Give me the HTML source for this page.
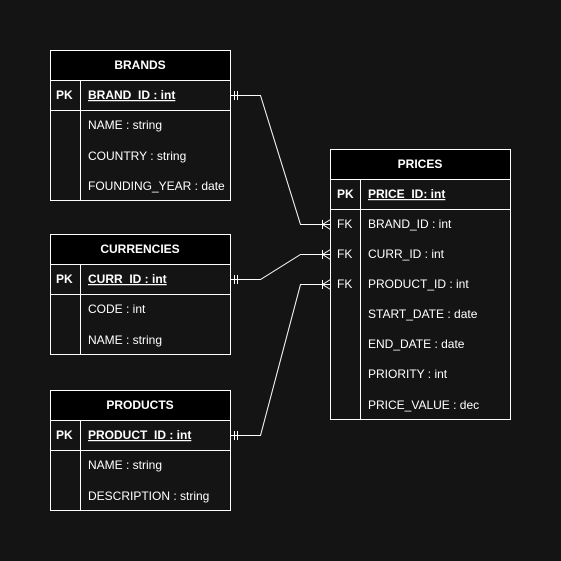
<!DOCTYPE html>
<html><head><style>
html,body{margin:0;padding:0;background:#141414;overflow:hidden;width:561px;height:561px;}
svg{display:block;}
svg text{font-family:"Liberation Sans",Arial,sans-serif;font-size:12px;fill:#fff;}
</style></head><body>
<svg width="561" height="561" viewBox="0 0 561 561" xmlns="http://www.w3.org/2000/svg">
<rect width="561" height="561" fill="#141414"/>
<g stroke="#fff" stroke-width="1" fill="none">
<rect x="50.5" y="50.5" width="180" height="150" fill="#141414"/>
<rect x="50.5" y="50.5" width="180" height="30" fill="#000"/>
<line x1="50.5" y1="110.5" x2="230.5" y2="110.5"/>
<line x1="80.5" y1="80.5" x2="80.5" y2="200.5"/>
<rect x="50.5" y="234.5" width="180" height="120" fill="#141414"/>
<rect x="50.5" y="234.5" width="180" height="30" fill="#000"/>
<line x1="50.5" y1="294.5" x2="230.5" y2="294.5"/>
<line x1="80.5" y1="264.5" x2="80.5" y2="354.5"/>
<rect x="50.5" y="390.5" width="180" height="120" fill="#141414"/>
<rect x="50.5" y="390.5" width="180" height="30" fill="#000"/>
<line x1="50.5" y1="450.5" x2="230.5" y2="450.5"/>
<line x1="80.5" y1="420.5" x2="80.5" y2="510.5"/>
<rect x="330.5" y="149.5" width="180" height="270" fill="#141414"/>
<rect x="330.5" y="149.5" width="180" height="30" fill="#000"/>
<line x1="330.5" y1="209.5" x2="510.5" y2="209.5"/>
<line x1="360.5" y1="179.5" x2="360.5" y2="419.5"/>
<polyline points="230.5,95.5 260.5,95.5 300.5,224.5 330.5,224.5"/>
<polyline points="230.5,279.5 260.5,279.5 300.5,254.5 330.5,254.5"/>
<polyline points="230.5,435.5 260.5,435.5 300.5,284.5 330.5,284.5"/>
<line x1="234.5" y1="91" x2="234.5" y2="100"/><line x1="237.5" y1="91" x2="237.5" y2="100"/>
<line x1="234.5" y1="275" x2="234.5" y2="284"/><line x1="237.5" y1="275" x2="237.5" y2="284"/>
<line x1="234.5" y1="431" x2="234.5" y2="440"/><line x1="237.5" y1="431" x2="237.5" y2="440"/>
<line x1="322.5" y1="220" x2="322.5" y2="229"/><polyline points="330.5,219.5 322.5,224.5 330.5,229.5"/>
<line x1="322.5" y1="250" x2="322.5" y2="259"/><polyline points="330.5,249.5 322.5,254.5 330.5,259.5"/>
<line x1="322.5" y1="280" x2="322.5" y2="289"/><polyline points="330.5,279.5 322.5,284.5 330.5,289.5"/>
</g>
<g text-anchor="middle">
<text x="140" y="69" font-weight="bold">BRANDS</text>
<text x="140" y="253" font-weight="bold">CURRENCIES</text>
<text x="140" y="409" font-weight="bold">PRODUCTS</text>
<text x="420" y="168" font-weight="bold">PRICES</text>
</g>
<g>
<text x="56" y="99" font-weight="bold">PK</text>
<text x="88" y="99" font-weight="bold" text-decoration="underline">BRAND_ID : int</text>
<text x="88" y="129">NAME : string</text>
<text x="88" y="160">COUNTRY : string</text>
<text x="88" y="190">FOUNDING_YEAR : date</text>

<text x="56" y="283" font-weight="bold">PK</text>
<text x="88" y="283" font-weight="bold" text-decoration="underline">CURR_ID : int</text>
<text x="88" y="313">CODE : int</text>
<text x="88" y="344">NAME : string</text>

<text x="56" y="439" font-weight="bold">PK</text>
<text x="88" y="439" font-weight="bold" text-decoration="underline">PRODUCT_ID : int</text>
<text x="88" y="469">NAME : string</text>
<text x="88" y="500">DESCRIPTION : string</text>

<text x="337" y="198" font-weight="bold">PK</text>
<text x="368" y="198" font-weight="bold" text-decoration="underline">PRICE_ID: int</text>
<text x="337" y="228">FK</text><text x="368" y="228">BRAND_ID : int</text>
<text x="337" y="258">FK</text><text x="368" y="258">CURR_ID : int</text>
<text x="337" y="288">FK</text><text x="368" y="288">PRODUCT_ID : int</text>
<text x="368" y="318">START_DATE : date</text>
<text x="368" y="348">END_DATE : date</text>
<text x="368" y="378">PRIORITY : int</text>
<text x="368" y="409">PRICE_VALUE : dec</text>
</g>
</svg>
</body></html>
